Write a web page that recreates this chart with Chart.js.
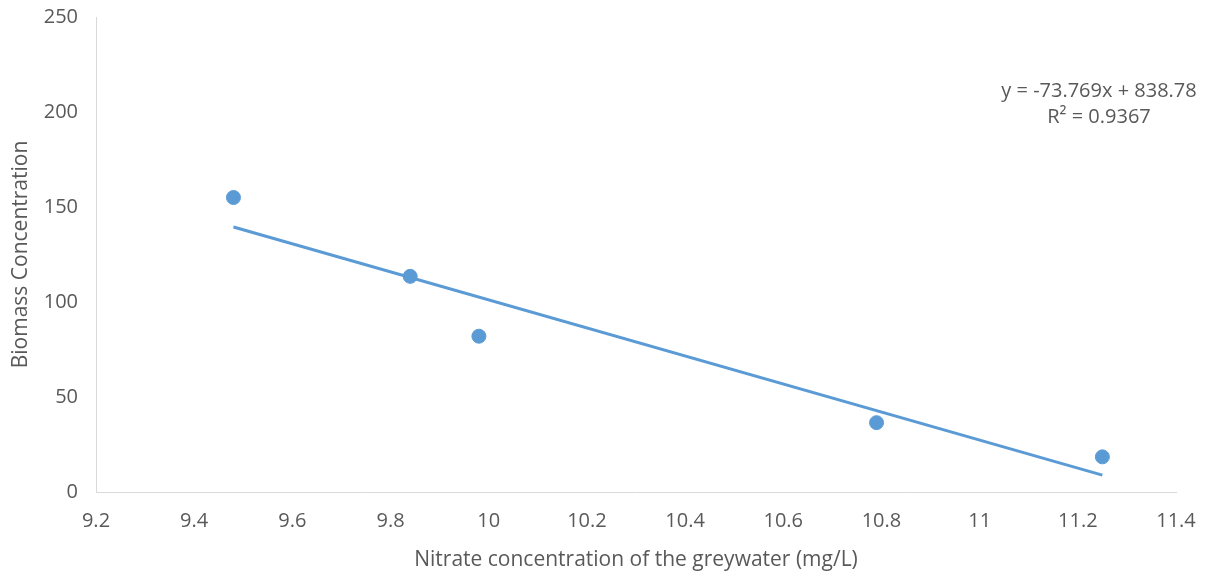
<!DOCTYPE html>
<html lang="en">
<head>
    <meta charset="UTF-8">
    <title>Biomass vs Nitrate</title>
    <script src="https://cdn.jsdelivr.net/npm/chart.js"></script>
    <style>
        html, body { margin: 0; padding: 0; background: #fff; }
        #box { width: 1214px; height: 577px; }
    </style>
</head>
<body>
    <div id="box"><canvas id="grafico"></canvas></div>

<script>
    // valores
    const nitrato = [9.48, 9.84, 9.98, 10.79, 11.25];
    const biomassa = [155, 113.5, 82, 36.5, 18.5];
    // linha de tendência (pontas)
    const tendX = [9.48, 11.25];
    const tendY = [139.5, 8.9];
    const equacao = ["y = -73.769x + 838.78", "R² = 0.9367"];

    const azul = '#5b9bd5';
    const cinza = '#595959';

    const pontos = nitrato.map((x, i) => ({ x: x, y: biomassa[i] }));
    const linha = tendX.map((x, i) => ({ x: x, y: tendY[i] }));

    // escreve a equação da tendência no canto direito
    const textoEquacao = {
        id: 'textoEquacao',
        afterDraw(chart) {
            const ctx = chart.ctx;
            const area = chart.chartArea;
            ctx.save();
            ctx.fillStyle = cinza;
            ctx.font = '20px "Open Sans", sans-serif';
            ctx.textAlign = 'center';
            ctx.textBaseline = 'middle';
            ctx.fillText(equacao[0], area.right - 77, area.top + 74);
            ctx.fillText(equacao[1], area.right - 77, area.top + 100);
            ctx.restore();
        }
    };

    new Chart(document.getElementById('grafico'), {
        type: 'scatter',
        data: {
            datasets: [
                {
                    label: 'Tendência',
                    data: linha,
                    showLine: true,
                    borderColor: azul,
                    borderWidth: 3,
                    pointRadius: 0,
                    order: 2
                },
                {
                    label: 'Biomassa',
                    data: pontos,
                    backgroundColor: azul,
                    borderColor: azul,
                    pointRadius: 7,
                    order: 1
                }
            ]
        },
        options: {
            responsive: true,
            maintainAspectRatio: false,
            animation: false,
            layout: { padding: { top: 17, right: 38, left: 0, bottom: 0 } },
            plugins: {
                legend: { display: false },
                tooltip: { enabled: false }
            },
            scales: {
                x: {
                    type: 'linear',
                    min: 9.2,
                    max: 11.4,
                    afterFit: s => { s.height = 85; s.paddingLeft = 0; s.paddingRight = 0; },
                    grid: { display: false, drawTicks: false },
                    border: { color: '#d9d9d9', width: 1 },
                    ticks: {
                        stepSize: 0.2,
                        padding: 17,
                        color: cinza,
                        font: { family: '"Liberation Sans Narrow", "Open Sans", sans-serif', size: 20 },
                        callback: v => +v.toFixed(1)
                    },
                    title: {
                        display: true,
                        text: 'Nitrate concentration of the greywater (mg/L)',
                        color: cinza,
                        font: { family: '"Open Sans", sans-serif', size: 21 },
                        padding: { top: 6 }
                    }
                },
                y: {
                    min: 0,
                    max: 250,
                    afterFit: s => { s.width = 96; s.paddingTop = 0; s.paddingBottom = 0; },
                    grid: { display: false, drawTicks: false },
                    border: { color: '#d9d9d9', width: 1 },
                    ticks: {
                        stepSize: 50,
                        padding: 18,
                        color: cinza,
                        font: { family: '"Open Sans", sans-serif', size: 20 }
                    },
                    title: {
                        display: true,
                        text: 'Biomass Concentration',
                        color: cinza,
                        font: { family: '"Open Sans", sans-serif', size: 21 },
                        padding: { top: 8, bottom: 0 }
                    }
                }
            }
        },
        plugins: [textoEquacao]
    });
</script>
</body>
</html>
